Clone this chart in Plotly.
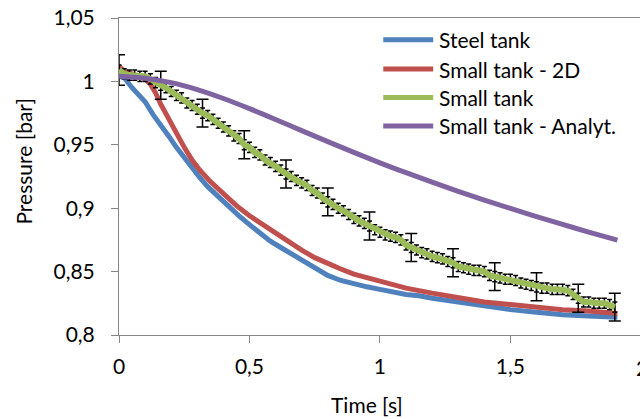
import plotly.graph_objects as go

# ---------------- data ----------------
steel_t = [0, 0.02, 0.05, 0.08, 0.10, 0.13, 0.16, 0.19, 0.22, 0.25, 0.28, 0.31, 0.34, 0.37, 0.40,
           0.43, 0.46, 0.50, 0.54, 0.58, 0.62, 0.66, 0.70, 0.75, 0.80, 0.85, 0.90, 0.95, 1.00,
           1.05, 1.10, 1.15, 1.20, 1.30, 1.40, 1.50, 1.60, 1.70, 1.80, 1.91]
steel_p = [1.004, 1.003, 0.995, 0.988, 0.984, 0.974, 0.966, 0.957, 0.948, 0.940, 0.931, 0.924,
           0.917, 0.911, 0.905, 0.899, 0.894, 0.887, 0.880, 0.874, 0.869, 0.864, 0.859, 0.853,
           0.847, 0.843, 0.840, 0.838, 0.836, 0.834, 0.832, 0.831, 0.829, 0.826, 0.823, 0.820,
           0.818, 0.816, 0.815, 0.814]

small2d_t = [0, 0.02, 0.05, 0.08, 0.10, 0.12, 0.14, 0.16, 0.18, 0.20, 0.22, 0.25, 0.28, 0.31,
             0.35, 0.40, 0.45, 0.50, 0.55, 0.60, 0.65, 0.70, 0.75, 0.80, 0.85, 0.90, 0.95, 1.00,
             1.10, 1.20, 1.30, 1.40, 1.50, 1.60, 1.70, 1.80, 1.91]
small2d_p = [1.012, 1.008, 1.006, 1.004, 1.002, 0.998, 0.991, 0.982, 0.974, 0.966, 0.958, 0.948,
             0.938, 0.930, 0.921, 0.911, 0.902, 0.894, 0.887, 0.880, 0.873, 0.867, 0.861, 0.856,
             0.852, 0.848, 0.845, 0.842, 0.837, 0.833, 0.829, 0.826, 0.824, 0.822, 0.820, 0.819,
             0.817]

small_t = [round(i * 0.02, 2) for i in range(96)]
small_p = [1.009, 1.006, 1.005, 1.005, 1.004, 1.004, 1.002, 0.999, 0.997, 0.995,
           0.992, 0.989, 0.987, 0.983, 0.981, 0.978, 0.975, 0.973, 0.970, 0.967,
           0.964, 0.961, 0.957, 0.955, 0.950, 0.948, 0.944, 0.942, 0.938, 0.936,
           0.933, 0.930, 0.927, 0.925, 0.922, 0.920, 0.918, 0.914, 0.912, 0.908,
           0.905, 0.903, 0.900, 0.898, 0.895, 0.892, 0.890, 0.888, 0.886, 0.883,
           0.881, 0.879, 0.878, 0.877, 0.875, 0.871, 0.869, 0.867, 0.865, 0.864,
           0.862, 0.861, 0.860, 0.858, 0.857, 0.854, 0.853, 0.852, 0.851, 0.851,
           0.850, 0.847, 0.846, 0.845, 0.844, 0.844, 0.843, 0.841, 0.840, 0.839,
           0.838, 0.837, 0.837, 0.836, 0.836, 0.836, 0.835, 0.832, 0.829, 0.826,
           0.826, 0.825, 0.825, 0.825, 0.824, 0.822]
small_err_small = [0.004] * 96
bar_idx = [0, 8, 16, 24, 32, 40, 48, 56, 64, 72, 80, 88, 95]
bar_err = [0.012, 0.011, 0.011, 0.011, 0.011, 0.011, 0.011, 0.011, 0.011, 0.011, 0.011, 0.011, 0.011]

analyt_t = [0, 0.1, 0.2, 0.3, 0.4, 0.5, 0.6, 0.7, 0.8, 0.9, 1.0, 1.1, 1.2, 1.3, 1.4, 1.5, 1.6,
            1.7, 1.8, 1.91]
analyt_p = [1.004, 1.0025, 0.9990, 0.9935, 0.9865, 0.9785, 0.9700, 0.9612, 0.9525, 0.9440,
            0.9358, 0.9280, 0.9205, 0.9133, 0.9064, 0.8998, 0.8934, 0.8872, 0.8812, 0.8748]

series_names = ["Steel tank", "Small tank - 2D", "Small tank", "Small tank - Analyt."]
colors = ["#4F81BD", "#C0504D", "#9BBB59", "#8064A2"]

x_tickvals = [0, 0.5, 1, 1.5]
x_ticktext = ["0", "0,5", "1", "1,5"]
y_tickvals = [0.8, 0.85, 0.9, 0.95, 1.0, 1.05]
y_ticktext = ["0,8", "0,85", "0,9", "0,95", "1", "1,05"]

# ---------------- figure ----------------
W, H = 640, 419
ML, MT, MB, MR = 118.5, 18.3, 84.3, 0
FONT = "Lato"
FS = 21
AX = "#868686"

fig = go.Figure()
fig.add_trace(go.Scatter(x=steel_t, y=steel_p, mode="lines", name=series_names[0],
                         line=dict(color=colors[0], width=5)))
fig.add_trace(go.Scatter(x=small2d_t, y=small2d_p, mode="lines", name=series_names[1],
                         line=dict(color=colors[1], width=5)))
# dense small error bars
fig.add_trace(go.Scatter(x=small_t, y=small_p, mode="markers", showlegend=False,
                         marker=dict(size=1, color="rgba(0,0,0,0)"),
                         error_y=dict(type="data", array=small_err_small, color="black",
                                      thickness=1.5, width=2.5)))
# large error bars
fig.add_trace(go.Scatter(x=[small_t[i] for i in bar_idx], y=[small_p[i] for i in bar_idx],
                         mode="markers", showlegend=False,
                         marker=dict(size=1, color="rgba(0,0,0,0)"),
                         error_y=dict(type="data", array=bar_err, color="black",
                                      thickness=1.5, width=6)))
fig.add_trace(go.Scatter(x=small_t, y=small_p, mode="lines", name=series_names[2],
                         line=dict(color=colors[2], width=6)))
fig.add_trace(go.Scatter(x=analyt_t, y=analyt_p, mode="lines", name=series_names[3],
                         line=dict(color=colors[3], width=5, shape="spline")))

plot_w = W - ML - MR
plot_h = H - MT - MB

def px_x(px):
    return (px - ML) / plot_w

def px_y(py):
    return (H - MB - py) / plot_h

shapes = []
annotations = []
legend_y = [40, 69.3, 97.7, 126]
for name, col, ly in zip(series_names, colors, legend_y):
    shapes.append(dict(type="line", xref="paper", yref="paper",
                       x0=px_x(383), x1=px_x(433), y0=px_y(ly), y1=px_y(ly),
                       line=dict(color=col, width=5)))
    annotations.append(dict(text=name, xref="paper", yref="paper", x=px_x(437), y=px_y(ly),
                            xanchor="left", yanchor="middle", showarrow=False,
                            font=dict(family=FONT, size=FS, color="black")))

annotations.append(dict(text="Pressure [bar]", xref="paper", yref="paper",
                        x=px_x(23), y=px_y(162), textangle=-90, showarrow=False,
                        xanchor="center", yanchor="middle",
                        font=dict(family=FONT, size=FS, color="black")))
annotations.append(dict(text="Time [s]", xref="paper", yref="paper",
                        x=px_x(367), y=px_y(404), showarrow=False,
                        xanchor="center", yanchor="middle",
                        font=dict(family=FONT, size=FS, color="black")))
annotations.append(dict(text="2", xref="paper", yref="paper",
                        x=px_x(641.6), y=px_y(367), showarrow=False,
                        xanchor="center", yanchor="middle",
                        font=dict(family=FONT, size=FS, color="black")))

fig.update_layout(
    width=W, height=H,
    margin=dict(l=ML, r=MR, t=MT, b=MB, pad=0),
    paper_bgcolor="white", plot_bgcolor="white",
    showlegend=False,
    font=dict(family=FONT, size=FS, color="black"),
    shapes=shapes, annotations=annotations,
    xaxis=dict(range=[0, (W - ML - MR) / 261.2], tickvals=x_tickvals, ticktext=x_ticktext,
               showgrid=False, zeroline=False, showline=True, linecolor=AX, linewidth=1,
               mirror=True, ticks="outside", ticklen=7, tickcolor=AX, tickwidth=1,
               ticklabelstandoff=6),
    yaxis=dict(range=[0.8, 1.05], tickvals=y_tickvals, ticktext=y_ticktext,
               showgrid=False, zeroline=False, showline=True, linecolor=AX, linewidth=1,
               ticks="outside", ticklen=7, tickcolor=AX, tickwidth=1,
               ticklabelstandoff=12),
)

fig.write_html("out.html")
